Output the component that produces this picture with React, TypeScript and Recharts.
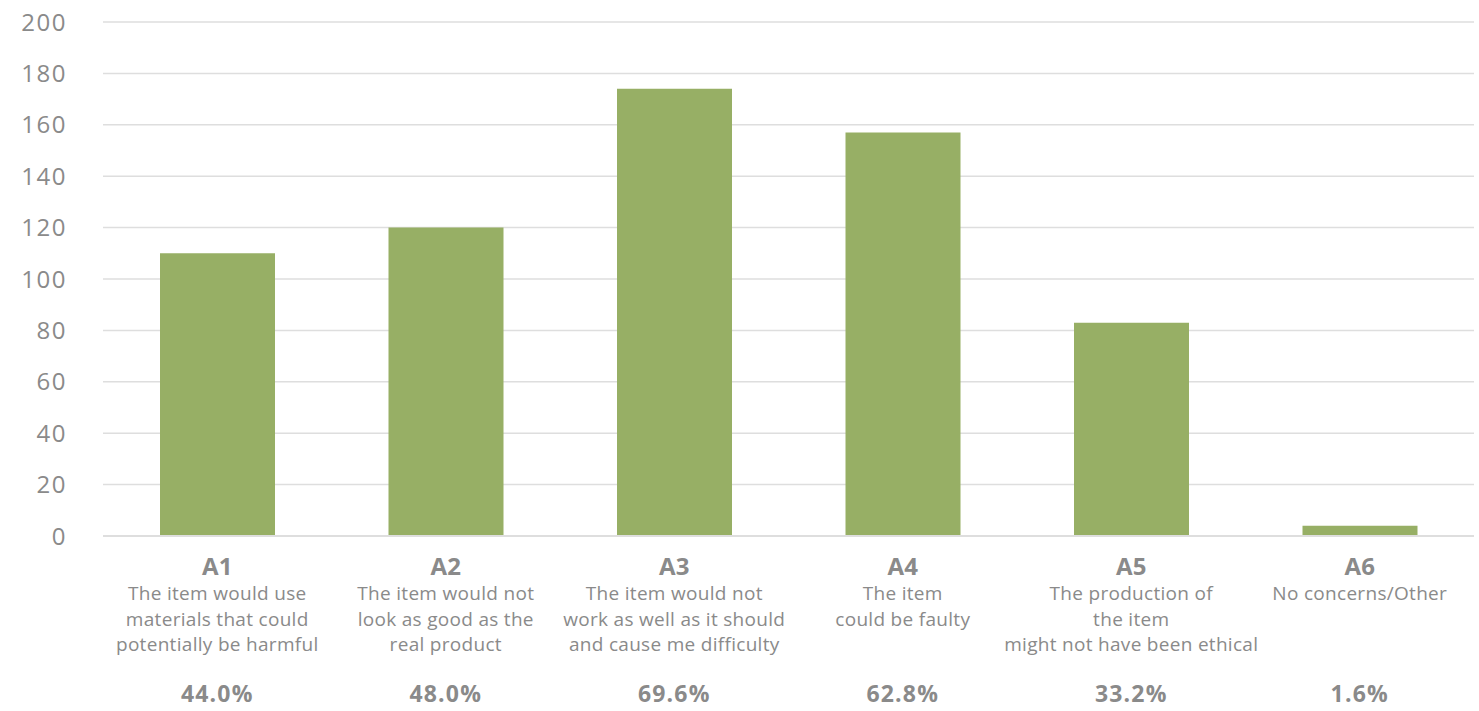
import React from 'react';
import { BarChart, Bar, XAxis, YAxis, CartesianGrid } from 'recharts';

const codes = ['A1', 'A2', 'A3', 'A4', 'A5', 'A6'];
const counts = [110, 120, 174, 157, 83, 4];
const percents = ['44.0%', '48.0%', '69.6%', '62.8%', '33.2%', '1.6%'];
const descriptions = [
  ['The item would use', 'materials that could', 'potentially be harmful'],
  ['The item would not', 'look as good as the', 'real product'],
  ['The item would not', 'work as well as it should', 'and cause me difficulty'],
  ['The item', 'could be faulty'],
  ['The production of', 'the item', 'might not have been ethical'],
  ['No concerns/Other'],
];
const yTicks = [0, 20, 40, 60, 80, 100, 120, 140, 160, 180, 200];

const BAR_COLOR = '#97AF65';
const TEXT_COLOR = '#8a8a8a';
const GRID_COLOR = '#dedede';
const FONT = '"Open Sans", Lato, sans-serif';

const data = codes.map((c, i) => ({ code: c, count: counts[i] }));

function CategoryTick({ x, y, payload }: { x?: number; y?: number; payload?: { value: string; index: number } }) {
  const i = codes.indexOf(payload?.value ?? '');
  if (i < 0) return null;
  const top = y ?? 0;
  return (
    <g fontFamily={FONT} fill={TEXT_COLOR}>
      <text x={x} y={top + 39} textAnchor="middle" fontSize={24} fontWeight={700}>
        {codes[i]}
      </text>
      {descriptions[i].map((line, j) => (
        <text key={j} x={x} y={top + 64 + j * 25.5} textAnchor="middle" fontSize={19} letterSpacing={0.3}>
          {line}
        </text>
      ))}
      <text x={x} y={top + 166} textAnchor="middle" fontSize={23} fontWeight={700} letterSpacing={1.2}>
        {percents[i]}
      </text>
    </g>
  );
}

export default function App() {
  return (
    <div style={{ position: 'absolute', left: 0, top: 0, background: '#fff' }}>
      <BarChart
        width={1479}
        height={711}
        data={data}
        margin={{ top: 22, right: 5, bottom: 0, left: 0 }}
        barSize={115}
      >
        <CartesianGrid vertical={false} stroke={GRID_COLOR} strokeWidth={1.5} />
        <XAxis
          dataKey="code"
          height={175}
          axisLine={{ stroke: GRID_COLOR, strokeWidth: 2 }}
          tickLine={false}
          tickSize={0}
          tickMargin={0}
          interval={0}
          tick={<CategoryTick />}
        />
        <YAxis
          width={103}
          domain={[0, 200]}
          ticks={yTicks}
          axisLine={false}
          tickLine={false}
          tickSize={0}
          tickMargin={36}
          tick={{ fill: TEXT_COLOR, fontSize: 24, fontFamily: FONT, letterSpacing: 1.5 }}
        />
        <Bar dataKey="count" fill={BAR_COLOR} isAnimationActive={false} />
      </BarChart>
    </div>
  );
}
